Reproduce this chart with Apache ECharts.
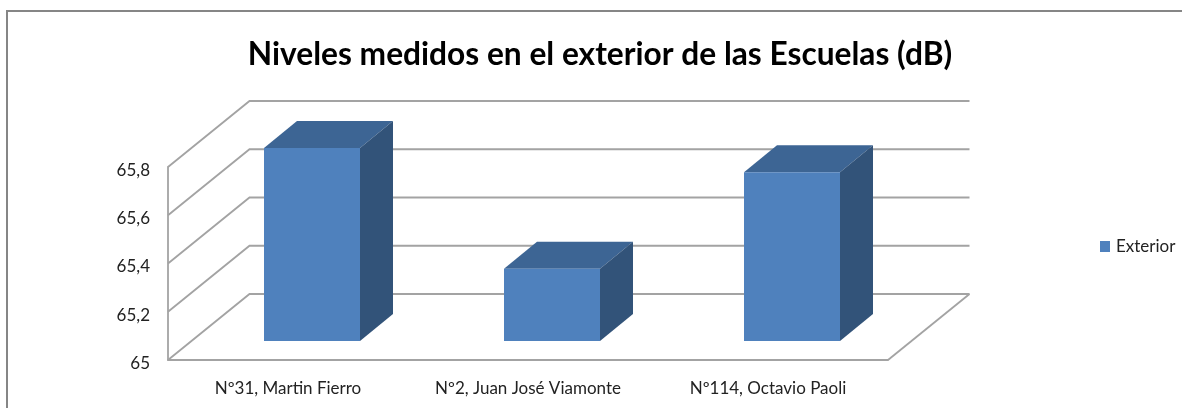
<!DOCTYPE html>
<html lang="es">
<head>
    <meta charset="UTF-8">
    <title>Niveles exterior</title>
    <script src="https://cdn.jsdelivr.net/npm/echarts@6/dist/echarts.min.js"></script>
    <style>
        html, body { margin: 0; padding: 0; background: #fff; }
    </style>
</head>
<body>
<div id="chart" style="width: 1182px;height: 408px;"></div>
<script>
    var categories = ['Nº31, Martin Fierro', 'Nº2, Juan José Viamonte', 'Nº114, Octavio Paoli'];
    var exterior = [65.8, 65.3, 65.7];
    var yTicks = [65, 65.2, 65.4, 65.6, 65.8];

    // fake 3D: how far the back wall and the bar depth are pushed
    var WALL_DX = 81.5, WALL_DY = 66;
    var BAR_SHIFT_X = 24, BAR_SHIFT_Y = 19;
    var BAR_DX = 33, BAR_DY = 27;
    var GRID_COLOR = '#a3a3a3';

    function renderWall(params, api) {
        var value = api.value(1);
        var front = api.coord([0, value]);
        var catWidth = api.size([1, 0])[0];
        var left = front[0] - catWidth / 2;
        var right = left + catWidth * categories.length;
        var style = { stroke: GRID_COLOR, lineWidth: 1.8, fill: null };
        var children = [{
            type: 'polyline',
            shape: { points: [[left, front[1]], [left + WALL_DX, front[1] - WALL_DY], [right + WALL_DX, front[1] - WALL_DY]] },
            style: style
        }];
        // the floor also closes on the right side
        if (params.dataIndex === 0) {
            children.push({
                type: 'line',
                shape: { x1: right, y1: front[1], x2: right + WALL_DX, y2: front[1] - WALL_DY },
                style: style
            });
        }
        return { type: 'group', children: children };
    }

    function renderBar(params, api) {
        var top = api.coord([api.value(0), api.value(1)]);
        var base = api.coord([api.value(0), yTicks[0]]);
        var w = api.size([1, 0])[0] * 0.4;
        var x1 = top[0] + BAR_SHIFT_X - w / 2;
        var x2 = x1 + w;
        var y1 = top[1] - BAR_SHIFT_Y;
        var y2 = base[1] - BAR_SHIFT_Y;
        return {
            type: 'group',
            children: [{
                type: 'polygon',
                shape: { points: [[x1, y1], [x2, y1], [x2 + BAR_DX, y1 - BAR_DY], [x1 + BAR_DX, y1 - BAR_DY]] },
                style: { fill: '#3d6594' }
            }, {
                type: 'polygon',
                shape: { points: [[x2, y1], [x2 + BAR_DX, y1 - BAR_DY], [x2 + BAR_DX, y2 - BAR_DY], [x2, y2]] },
                style: { fill: '#325379' }
            }, {
                type: 'rect',
                shape: { x: x1, y: y1, width: w, height: y2 - y1 },
                style: { fill: '#4f81bd' }
            }]
        };
    }

    var myChart = echarts.init(document.getElementById('chart'));
    var option = {
        animation: false,
        backgroundColor: '#fff',
        textStyle: { fontFamily: 'Lato' },
        title: {
            text: 'Niveles medidos en el exterior de las Escuelas (dB)',
            left: 595,
            top: 34,
            textAlign: 'center',
            textStyle: { fontFamily: 'Lato', fontSize: 31.7, fontWeight: 'bold', color: '#000' }
        },
        legend: {
            data: [{ name: 'Exterior', icon: 'rect' }],
            left: 1100,
            top: 238,
            itemWidth: 10,
            itemHeight: 11,
            itemGap: 0,
            padding: 0,
            textStyle: { fontFamily: 'Lato', fontSize: 17, color: '#222', padding: [0, 0, 0, 1] }
        },
        grid: { left: 168, right: 294, top: 167, bottom: 48 },
        xAxis: {
            type: 'category',
            data: categories,
            axisTick: { show: false },
            axisLine: { lineStyle: { color: GRID_COLOR, width: 1.8 } },
            axisLabel: { interval: 0, margin: 20, fontFamily: 'Lato', fontSize: 17, color: '#222' }
        },
        yAxis: {
            type: 'value',
            min: 65,
            max: 65.8,
            interval: 0.2,
            splitLine: { show: false },
            axisTick: { show: false },
            axisLine: { show: true, lineStyle: { color: GRID_COLOR, width: 1.8 } },
            axisLabel: {
                margin: 18,
                verticalAlign: 'top',   // labels sit a little below their tick
                lineHeight: 7,
                fontFamily: 'Lato',
                fontSize: 17,
                color: '#222',
                formatter: function (v) { return String(+v.toFixed(1)).replace('.', ','); }
            }
        },
        graphic: [{
            // frame of the original picture, only left and top edges show
            type: 'polyline',
            silent: true,
            shape: { points: [[7, 408], [7, 11], [1182, 11]] },
            style: { stroke: '#868686', lineWidth: 2, fill: null }
        }],
        series: [{
            name: 'walls',
            type: 'custom',
            renderItem: renderWall,
            encode: { x: 0, y: 1 },
            silent: true,
            z: 1,
            data: yTicks.map(function (t) { return [0, t]; })
        }, {
            name: 'Exterior',
            type: 'custom',
            renderItem: renderBar,
            encode: { x: 0, y: 1 },
            itemStyle: { color: '#4f81bd' },
            z: 3,
            data: exterior.map(function (v, i) { return [i, v]; })
        }]
    };
    myChart.setOption(option);
</script>
</body>
</html>
